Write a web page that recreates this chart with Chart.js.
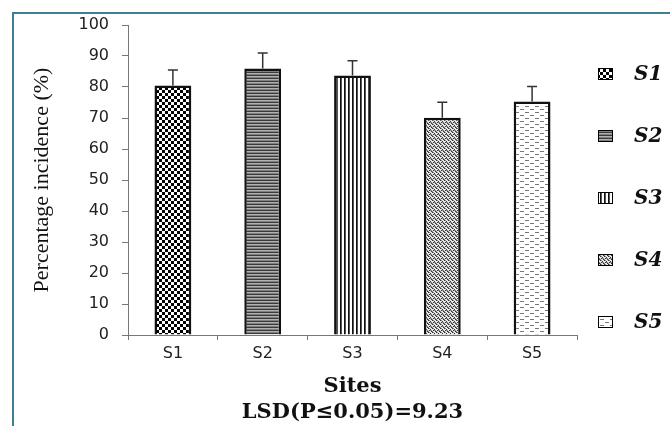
<!DOCTYPE html>
<html><head><meta charset="utf-8">
<script src="https://cdn.jsdelivr.net/npm/chart.js@4/dist/chart.umd.min.js"></script>
<style>
html,body{margin:0;padding:0;background:#fff;overflow:hidden}
#wrap{position:relative;width:670px;height:426px;overflow:hidden}
#frame{position:absolute;left:12px;top:12px;width:700px;height:500px;border-left:2px solid #3f7f93;border-top:2px solid #3f7f93}
canvas{position:absolute;left:0;top:0}
</style></head><body>
<div id="wrap"><div id="frame"></div><canvas id="c" width="670" height="426"></canvas></div>
<script>
const categories = ['S1', 'S2', 'S3', 'S4', 'S5'];
const incidence = [80.5, 86.0, 83.7, 70.1, 75.3];
const errors = [5.0, 5.0, 4.8, 5.0, 4.9];
const yTicks = [0, 10, 20, 30, 40, 50, 60, 70, 80, 90, 100];
const legendLabels = ['S1', 'S2', 'S3', 'S4', 'S5'];
const yTitle = 'Percentage incidence (%)';
const xTitle = ['Sites', 'LSD(P\u22640.05)=9.23'];
const patternKinds = ['checker', 'hstripe', 'vstripe', 'stipple', 'dash'];

function makePattern(kind) {
  const c = document.createElement('canvas');
  const g = c.getContext('2d');
  if (kind === 'checker') {
    c.width = 6; c.height = 6;
    g.fillStyle = '#fff'; g.fillRect(0, 0, 6, 6);
    g.fillStyle = '#000'; g.fillRect(0, 0, 3, 3); g.fillRect(3, 3, 3, 3);
  } else if (kind === 'hstripe') {
    c.width = 4; c.height = 3;
    g.fillStyle = '#b0b0b0'; g.fillRect(0, 0, 4, 3);
    g.fillStyle = '#3a3a3a'; g.fillRect(0, 0, 4, 1);
    g.fillStyle = '#808080'; g.fillRect(0, 2, 4, 1);
  } else if (kind === 'vstripe') {
    c.width = 4; c.height = 4;
    g.fillStyle = '#fff'; g.fillRect(0, 0, 4, 4);
    g.fillStyle = '#111'; g.fillRect(0, 0, 1, 4);
    g.fillStyle = '#555'; g.fillRect(1, 0, 1, 4);
  } else if (kind === 'stipple') {
    c.width = 4; c.height = 4;
    g.fillStyle = '#e8e8e8'; g.fillRect(0, 0, 4, 4);
    g.fillStyle = '#333';
    g.fillRect(0, 0, 1, 1); g.fillRect(2, 1, 1, 1); g.fillRect(1, 2, 1, 1); g.fillRect(3, 3, 1, 1);
    g.fillStyle = '#888';
    g.fillRect(1, 0, 1, 1); g.fillRect(3, 2, 1, 1); g.fillRect(0, 3, 1, 1); g.fillRect(2, 2, 1, 1);
  } else {
    c.width = 10; c.height = 6;
    g.fillStyle = '#fff'; g.fillRect(0, 0, 10, 6);
    g.fillStyle = '#777';
    g.fillRect(0, 1, 4, 1); g.fillRect(5, 4, 4, 1);
  }
  return g.createPattern(c, 'repeat');
}
const patterns = patternKinds.map(makePattern);

const errorBarPlugin = {
  id: 'errorBars',
  afterDatasetsDraw(chart) {
    const ctx = chart.ctx;
    const y = chart.scales.y;
    const meta = chart.getDatasetMeta(0);
    ctx.save();
    ctx.strokeStyle = '#333';
    ctx.lineWidth = 1.5;
    meta.data.forEach((bar, i) => {
      const top = y.getPixelForValue(incidence[i] + errors[i]);
      ctx.beginPath();
      ctx.moveTo(bar.x, bar.y);
      ctx.lineTo(bar.x, top);
      ctx.moveTo(bar.x - 5, top);
      ctx.lineTo(bar.x + 5, top);
      ctx.stroke();
    });
    ctx.restore();
  }
};

const legendPlugin = {
  id: 'sideLegend',
  afterDraw(chart) {
    const ctx = chart.ctx;
    const area = chart.chartArea;
    const boxX = area.right + 21;
    const textX = boxX + 36;
    ctx.save();
    legendLabels.forEach((lab, i) => {
      const cy = 74 + i * 62;
      ctx.fillStyle = patterns[i];
      ctx.fillRect(boxX, cy - 6, 15, 12);
      ctx.strokeStyle = '#000';
      ctx.lineWidth = 1;
      ctx.strokeRect(boxX + 0.5, cy - 5.5, 14, 11);
      ctx.fillStyle = '#111';
      ctx.font = 'italic bold 20px "DejaVu Serif"';
      ctx.textBaseline = 'middle';
      ctx.textAlign = 'left';
      ctx.fillText(lab, textX, cy + 1);
    });
    ctx.restore();
  }
};

new Chart(document.getElementById('c'), {
  type: 'bar',
  data: {
    labels: categories,
    datasets: [{
      data: incidence,
      backgroundColor: patterns,
      borderColor: '#111',
      borderWidth: 2.5,
      borderSkipped: 'bottom',
      barPercentage: 0.41,
      categoryPercentage: 1.0
    }]
  },
  options: {
    responsive: false,
    animation: false,
    devicePixelRatio: 1,
    layout: { padding: { left: 0, right: 93, top: 25, bottom: 0 } },
    plugins: { legend: { display: false }, tooltip: { enabled: false } },
    scales: {
      x: {
        offset: true,
        afterFit(s) { s.height = 91; },
        grid: { display: true, offset: true, drawOnChartArea: false, drawTicks: true, tickLength: 5, color: '#777' },
        border: { display: true, color: '#777', width: 1 },
        ticks: { color: '#222', padding: 4, font: { family: 'DejaVu Sans', size: 16 } },
        title: {
          display: true, text: xTitle, color: '#111',
          font: { family: 'DejaVu Serif', weight: 'bold', size: 21, lineHeight: 1.24 },
          padding: { top: 0, bottom: 0 }
        }
      },
      y: {
        min: 0, max: 100,
        afterFit(s) { s.width = 128; },
        afterBuildTicks(s) { s.ticks = yTicks.map(v => ({ value: v })); },
        grid: { display: true, drawOnChartArea: false, drawTicks: true, tickLength: 6, color: '#777' },
        border: { display: true, color: '#777', width: 1 },
        ticks: { color: '#222', padding: 13, font: { family: 'DejaVu Sans', size: 16 } },
        title: {
          display: true, text: yTitle, color: '#111',
          font: { family: 'Liberation Serif', size: 22, lineHeight: 1.2 },
          padding: { top: 29, bottom: 0 }
        }
      }
    }
  },
  plugins: [errorBarPlugin, legendPlugin]
});
</script>
</body></html>
